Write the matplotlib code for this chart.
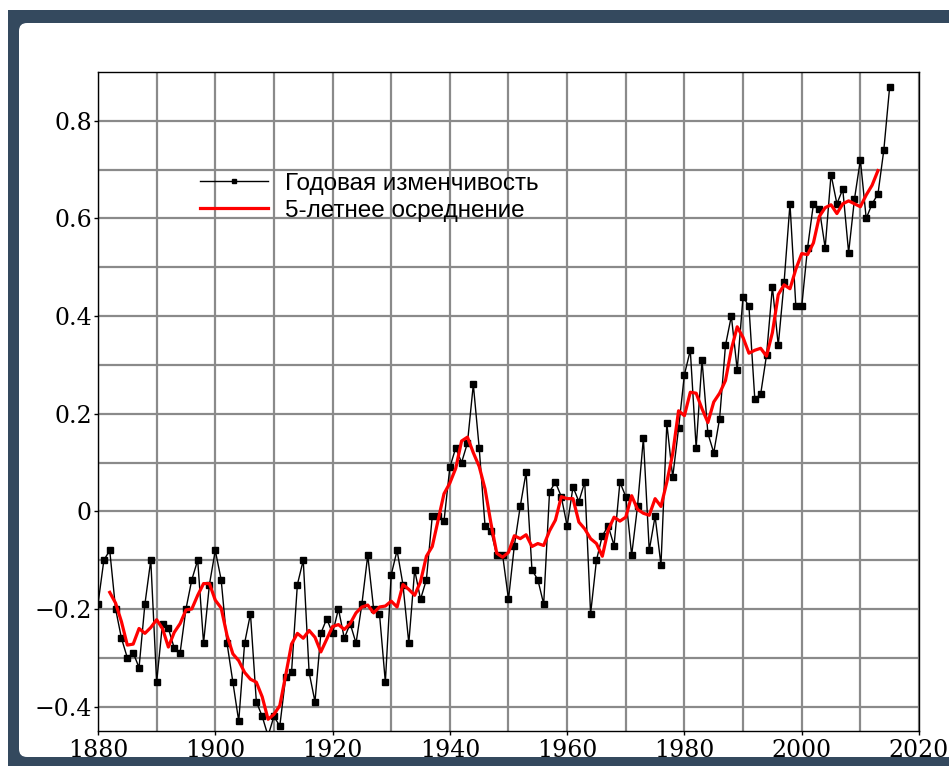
import numpy as np
import matplotlib
matplotlib.use("Agg")
import matplotlib.pyplot as plt
from matplotlib.patches import Rectangle, FancyBboxPatch
from matplotlib.transforms import IdentityTransform

# Annual global temperature anomaly, deg C
years = list(range(1880, 2016))
annual = [
    -0.19, -0.10, -0.08, -0.20, -0.26, -0.30, -0.29, -0.32, -0.19, -0.10,  # 1880s
    -0.35, -0.23, -0.24, -0.28, -0.29, -0.20, -0.14, -0.10, -0.27, -0.15,  # 1890s
    -0.08, -0.14, -0.27, -0.35, -0.43, -0.27, -0.21, -0.39, -0.42, -0.46,  # 1900s
    -0.42, -0.44, -0.34, -0.33, -0.15, -0.10, -0.33, -0.39, -0.25, -0.22,  # 1910s
    -0.25, -0.20, -0.26, -0.23, -0.27, -0.19, -0.09, -0.20, -0.21, -0.35,  # 1920s
    -0.13, -0.08, -0.15, -0.27, -0.12, -0.18, -0.14, -0.01, -0.01, -0.02,  # 1930s
    0.09, 0.13, 0.10, 0.14, 0.26, 0.13, -0.03, -0.04, -0.09, -0.09,        # 1940s
    -0.18, -0.07, 0.01, 0.08, -0.12, -0.14, -0.19, 0.04, 0.06, 0.03,       # 1950s
    -0.03, 0.05, 0.02, 0.06, -0.21, -0.10, -0.05, -0.03, -0.07, 0.06,      # 1960s
    0.03, -0.09, 0.01, 0.15, -0.08, -0.01, -0.11, 0.18, 0.07, 0.17,        # 1970s
    0.28, 0.33, 0.13, 0.31, 0.16, 0.12, 0.19, 0.34, 0.40, 0.29,            # 1980s
    0.44, 0.42, 0.23, 0.24, 0.32, 0.46, 0.34, 0.47, 0.63, 0.42,            # 1990s
    0.42, 0.54, 0.63, 0.62, 0.54, 0.69, 0.63, 0.66, 0.53, 0.64,            # 2000s
    0.72, 0.60, 0.63, 0.65, 0.74, 0.87,                                    # 2010-2015
]

# Five-year running mean, centred, 1882-2013
smooth_years = list(range(1882, 2014))
smooth = [
    -0.166, -0.188, -0.226, -0.274, -0.272, -0.240, -0.250, -0.238,
    -0.222, -0.240, -0.278, -0.248, -0.230, -0.202, -0.200, -0.172, -0.148, -0.148,
    -0.182, -0.198, -0.254, -0.292, -0.306, -0.330, -0.344, -0.350, -0.380, -0.426,
    -0.416, -0.398, -0.336, -0.272, -0.250, -0.260, -0.244, -0.258, -0.288, -0.262,
    -0.236, -0.232, -0.242, -0.230, -0.208, -0.196, -0.192, -0.208, -0.196, -0.194,
    -0.184, -0.196, -0.150, -0.160, -0.172, -0.144, -0.092, -0.072, -0.018, 0.036,
    0.058, 0.088, 0.144, 0.152, 0.120, 0.092, 0.046, -0.024, -0.086, -0.094,
    -0.084, -0.050, -0.056, -0.048, -0.072, -0.066, -0.070, -0.040, -0.018, 0.030,
    0.026, 0.026, -0.022, -0.036, -0.056, -0.066, -0.092, -0.038, -0.012, -0.020,
    -0.012, 0.032, 0.004, -0.004, -0.008, 0.026, 0.010, 0.060, 0.118, 0.206,
    0.196, 0.244, 0.242, 0.210, 0.182, 0.224, 0.242, 0.268, 0.332, 0.378,
    0.356, 0.324, 0.330, 0.334, 0.318, 0.366, 0.444, 0.464, 0.456, 0.496,
    0.528, 0.526, 0.550, 0.604, 0.622, 0.628, 0.610, 0.630, 0.636, 0.630,
    0.624, 0.648, 0.668, 0.698,
]

labels = ["Годовая изменчивость", "5-летнее осреднение"]

W, H = 949, 766
fig = plt.figure(figsize=(W / 100, H / 100), dpi=100)
fig.patch.set_facecolor("white")

# dark frame with a rounded white card on top of it
fig.add_artist(Rectangle((8, 0), W + 20, H - 10, transform=IdentityTransform(),
                         facecolor="#34495e", edgecolor="none", zorder=-10))
fig.add_artist(FancyBboxPatch((19, 9), W + 20, 757 - 23,
                              boxstyle="round,pad=0,rounding_size=8",
                              transform=IdentityTransform(),
                              facecolor="white", edgecolor="none", zorder=-9))

ax = fig.add_axes([98 / W, 35 / H, (919 - 98) / W, (731 - 72) / H])
ax.set_facecolor("white")

ax.plot(years, annual, color="black", linewidth=1.0, marker="s",
        markersize=5, label=labels[0], zorder=3)
ax.plot(smooth_years, smooth, color="red", linewidth=2.3,
        label=labels[1], zorder=4)

ax.set_xlim(1880, 2020)
ax.set_ylim(-0.45, 0.9)
ax.set_xticks(np.arange(1880, 2021, 20))
ax.set_xticks(np.arange(1890, 2020, 20), minor=True)
ax.set_yticks([-0.4, -0.2, 0.0, 0.2, 0.4, 0.6, 0.8])
ax.set_yticks([-0.3, -0.1, 0.1, 0.3, 0.5, 0.7], minor=True)
ax.set_yticklabels(["\u22120.4", "\u22120.2", "0", "0.2", "0.4", "0.6", "0.8"])

ax.grid(True, which="both", color="#8a8a8a", linewidth=1.6, zorder=0)
ax.set_axisbelow(True)
ax.tick_params(which="major", direction="out", length=3, width=1, pad=1.5,
               labelsize=17, colors="black")
ax.tick_params(axis="x", which="major", pad=3)
ax.tick_params(which="minor", length=0)
for lab in ax.get_xticklabels() + ax.get_yticklabels():
    lab.set_fontfamily("DejaVu Serif")
for sp in ax.spines.values():
    sp.set_color("black")
    sp.set_linewidth(1.0)

leg = ax.legend(loc="upper left", bbox_to_anchor=(0.124, 0.847), frameon=False,
                prop={"family": "Liberation Sans", "size": 17.5},
                handlelength=2.8, handletextpad=0.7, labelspacing=0.2,
                borderpad=0, borderaxespad=0, numpoints=1, markerscale=0.7)

fig.savefig("out.png", dpi=100, facecolor=fig.get_facecolor())
